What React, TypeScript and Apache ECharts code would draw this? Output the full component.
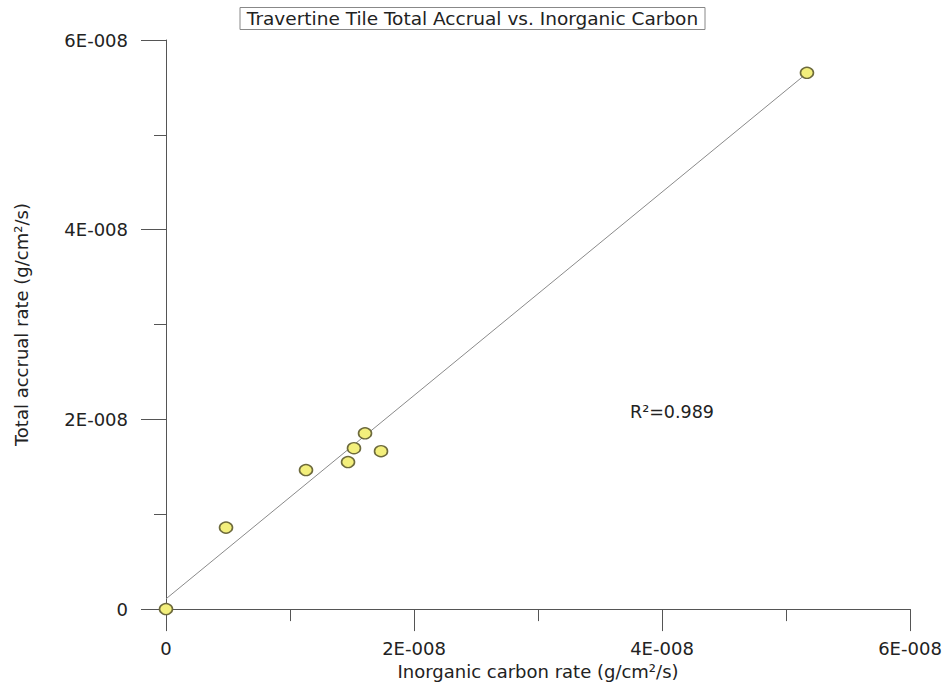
import React, { useEffect, useRef } from "react";
import * as echarts from "echarts";

const inorganicCarbon = [0, 0.484e-8, 1.129e-8, 1.468e-8, 1.516e-8, 1.605e-8, 1.734e-8, 5.169e-8];
const totalAccrual = [0, 0.859e-8, 1.466e-8, 1.55e-8, 1.696e-8, 1.853e-8, 1.665e-8, 5.654e-8];
const fitLineX = [0, 5.169e-8];
const fitLineY = [0.108e-8, 5.65e-8];
const axisTicks = [0, 2e-8, 4e-8, 6e-8];
const titleText = "Travertine Tile Total Accrual vs. Inorganic Carbon";
const xName = "Inorganic carbon rate (g/cm\u00b2/s)";
const yName = "Total accrual rate (g/cm\u00b2/s)";
const rSquaredText = "R\u00b2=0.989";

const FONT = "DejaVu Sans";

function fmt(v: number): string {
  if (Math.abs(v) < 1e-20) return "0";
  const e = Math.floor(Math.log10(Math.abs(v)) + 1e-9);
  const m = Math.round((v / Math.pow(10, e)) * 1000) / 1000;
  const sign = e < 0 ? "-" : "+";
  return `${m}E${sign}${String(Math.abs(e)).padStart(3, "0")}`;
}

export default function App() {
  const ref = useRef<HTMLDivElement>(null);
  useEffect(() => {
    if (!ref.current) return;
    const chart = echarts.init(ref.current, undefined, { renderer: "svg" });
    const axisColor = "#555";
    const textColor = "#222";
    const common = {
      type: "value" as const,
      min: axisTicks[0],
      max: axisTicks[axisTicks.length - 1],
      interval: axisTicks[1] - axisTicks[0],
      splitLine: { show: false },
      axisLine: { show: true, onZero: false, lineStyle: { color: axisColor, width: 1 } },
      minorTick: { show: true, splitNumber: 2, length: 12, lineStyle: { color: axisColor, width: 1 } },
      nameLocation: "middle" as const,
      nameTextStyle: { fontFamily: FONT, fontSize: 18, color: textColor },
    };
    chart.setOption({
      animation: false,
      backgroundColor: "#ffffff",
      title: {
        text: titleText,
        left: "center",
        top: 7,
        padding: [2, 7, 2, 7],
        borderWidth: 1,
        borderColor: "#888",
        textStyle: { fontFamily: FONT, fontSize: 18.5, fontWeight: "normal", color: textColor },
      },
      grid: { left: 166, right: 35, top: 40, bottom: 67, containLabel: false },
      xAxis: {
        ...common,
        name: xName,
        nameGap: 44,
        axisTick: { show: true, length: 22, lineStyle: { color: axisColor, width: 1 } },
        axisLabel: { margin: 30, fontFamily: FONT, fontSize: 18, color: textColor, formatter: fmt },
      },
      yAxis: {
        ...common,
        name: yName,
        nameGap: 136,
        axisTick: { show: true, length: 25, lineStyle: { color: axisColor, width: 1 } },
        axisLabel: { margin: 38, fontFamily: FONT, fontSize: 18, color: textColor, formatter: fmt },
      },
      graphic: [
        {
          type: "text",
          left: 630,
          top: 403,
          style: { text: rSquaredText, fontFamily: FONT, fontSize: 17.5, fill: textColor },
        },
      ],
      series: [
        {
          type: "line",
          data: fitLineX.map((x, i) => [x, fitLineY[i]]),
          symbol: "none",
          lineStyle: { color: "#8a8a8a", width: 1 },
          silent: true,
          z: 1,
        },
        {
          type: "scatter",
          data: inorganicCarbon.map((x, i) => [x, totalAccrual[i]]),
          symbol: "circle",
          symbolSize: [13, 11],
          itemStyle: { color: "#f3ef7c", borderColor: "#6d6a3c", borderWidth: 1.5, opacity: 1 },
          z: 2,
        },
      ],
    });
    return () => chart.dispose();
  }, []);
  return (
    <div
      ref={ref}
      style={{ position: "fixed", left: 0, top: 0, width: 945, height: 685, background: "#fff" }}
    />
  );
}
